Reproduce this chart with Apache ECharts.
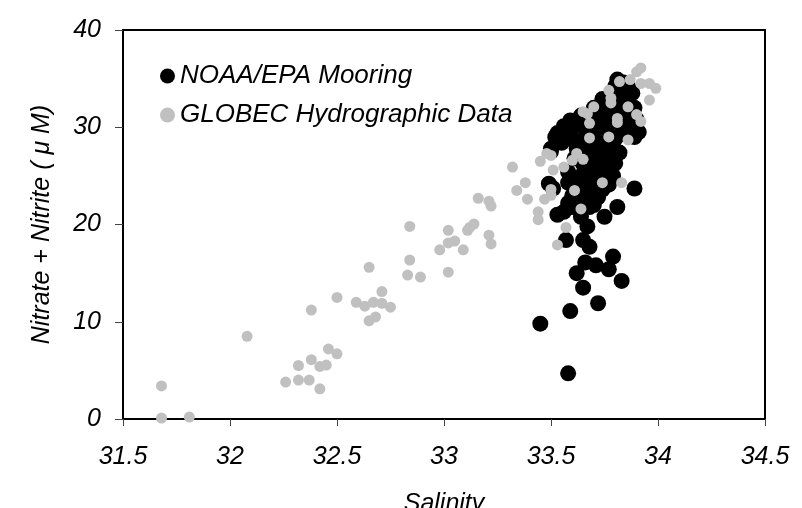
<!DOCTYPE html>
<html>
<head>
<meta charset="utf-8">
<script src="https://cdn.jsdelivr.net/npm/echarts@6/dist/echarts.min.js"></script>
<style>
  html, body { margin: 0; padding: 0; background: #fff; }
  #chart { width: 802px; height: 508px; }
</style>
</head>
<body>
<div id="chart"></div>
<script>
// salinity / nitrate+nitrite pairs
const mooringPoints = [
  [33.45, 9.8], [33.58, 4.7], [33.59, 11.1], [33.72, 11.9], [33.65, 13.5],
  [33.83, 14.2], [33.62, 15.0], [33.66, 16.1], [33.71, 15.8], [33.77, 15.4],
  [33.79, 16.7], [33.57, 18.4], [33.65, 18.4], [33.68, 17.7], [33.64, 20.8],
  [33.67, 19.8], [33.75, 20.8], [33.53, 21.0], [33.56, 21.3], [33.60, 21.8],
  [33.68, 21.8], [33.81, 21.8], [33.89, 23.7], [33.49, 24.2], [33.51, 23.7],
  [33.50, 27.5], [33.53, 29.4], [33.56, 30.1], [33.59, 30.7], [33.52, 29.0],
  [33.50, 27.8], [33.81, 34.9], [33.89, 29.0],
  [33.80, 34.2], [33.83, 33.8], [33.86, 34.2], [33.84, 34.6], [33.88, 33.5],
  [33.74, 32.9], [33.78, 33.3], [33.83, 33.0], [33.86, 32.8],
  [33.70, 32.0], [33.74, 32.2], [33.79, 31.9], [33.84, 32.3], [33.87, 31.6], [33.89, 32.0],
  [33.64, 31.2], [33.68, 30.9], [33.72, 31.3], [33.76, 31.0], [33.80, 31.4],
  [33.85, 31.0], [33.88, 30.5], [33.90, 30.8],
  [33.58, 29.8], [33.62, 30.2], [33.66, 29.9], [33.70, 30.3], [33.74, 30.0],
  [33.78, 29.7], [33.83, 30.0], [33.87, 29.8], [33.91, 29.5],
  [33.60, 28.8], [33.64, 28.6], [33.68, 29.2], [33.72, 28.7], [33.76, 28.4],
  [33.80, 28.8], [33.84, 29.3], [33.55, 28.4],
  [33.62, 27.8], [33.66, 27.5], [33.70, 28.0], [33.74, 27.6], [33.78, 27.9], [33.82, 27.4],
  [33.61, 26.8], [33.65, 26.2], [33.69, 27.0], [33.73, 26.6], [33.77, 26.9], [33.80, 26.3],
  [33.58, 25.4], [33.64, 25.0], [33.68, 25.6], [33.72, 25.2], [33.76, 25.5], [33.79, 25.0],
  [33.58, 24.3], [33.62, 23.9], [33.66, 24.4], [33.70, 24.0], [33.74, 23.6], [33.77, 24.1],
  [33.60, 23.0], [33.64, 22.6], [33.68, 23.2], [33.72, 22.8],
  [33.58, 22.2], [33.62, 21.9], [33.66, 22.3], [33.70, 22.0]
];

const globecPoints = [
  [31.68, 3.4], [31.68, 0.1], [31.81, 0.2], [32.08, 8.5], [32.38, 11.2],
  [32.26, 3.8], [32.32, 4.0], [32.37, 4.0], [32.42, 3.1], [32.32, 5.5],
  [32.38, 6.1], [32.42, 5.4], [32.45, 5.55], [32.46, 7.2], [32.50, 6.7],
  [32.50, 12.5], [32.59, 12.0], [32.63, 11.6], [32.67, 12.0], [32.71, 11.9],
  [32.75, 11.5], [32.71, 13.1], [32.65, 15.6], [32.65, 10.1], [32.68, 10.5],
  [32.84, 19.8], [32.84, 16.35], [32.83, 14.8], [32.89, 14.6], [32.98, 17.4],
  [33.02, 19.4], [33.02, 18.1], [33.05, 18.3], [33.02, 15.1], [33.09, 17.4],
  [33.11, 19.4], [33.12, 19.7], [33.14, 20.05], [33.16, 22.7], [33.21, 22.4],
  [33.22, 21.9], [33.21, 18.9], [33.22, 18.0], [33.32, 25.9], [33.38, 24.3],
  [33.34, 23.5], [33.39, 22.6], [33.44, 21.3], [33.44, 20.5], [33.47, 22.6],
  [33.45, 26.5], [33.50, 27.1], [33.51, 25.6], [33.48, 27.3], [33.50, 23.6],
  [33.50, 23.0], [33.53, 17.9], [33.57, 19.7], [33.56, 25.9], [33.60, 26.6],
  [33.62, 27.3], [33.65, 26.7], [33.61, 23.5], [33.74, 24.3], [33.83, 24.3],
  [33.64, 21.6],
  [33.92, 36.1], [33.90, 35.7], [33.96, 34.5], [33.99, 34.0], [33.96, 32.8],
  [33.92, 34.5], [33.87, 34.9], [33.82, 34.7], [33.77, 33.8], [33.78, 33.0],
  [33.78, 32.5], [33.67, 31.4], [33.68, 30.4], [33.86, 32.1], [33.81, 30.9],
  [33.81, 30.5], [33.90, 31.3], [33.92, 30.6], [33.68, 28.9], [33.77, 29.0],
  [33.86, 28.7], [33.65, 31.6], [33.70, 32.1]
];

const seriesNames = ['NOAA/EPA Mooring', 'GLOBEC Hydrographic Data'];
const salinityTicks = { min: 31.5, max: 34.5, interval: 0.5 };
const nitrateTicks = { min: 0, max: 40, interval: 10 };

const textFont = {
  fontFamily: 'Liberation Sans',
  fontStyle: 'italic',
  fontSize: 25,
  color: '#000'
};

const chart = echarts.init(document.getElementById('chart'));

const option = {
  animation: false,
  backgroundColor: '#fff',
  grid: {
    left: 123,
    right: 37,
    top: 30,
    bottom: 89,
    outerBoundsMode: 'none',
    show: true,
    borderColor: '#000',
    borderWidth: 2
  },
  legend: {
    orient: 'vertical',
    left: 155,
    top: 58,
    itemWidth: 15,
    itemHeight: 15,
    itemGap: 13,
    textStyle: Object.assign({}, textFont, { fontSize: 26, padding: [0, 0, 0, 0] }),
    data: [
      { name: seriesNames[0], icon: 'circle' },
      { name: seriesNames[1], icon: 'circle' }
    ]
  },
  xAxis: {
    type: 'value',
    min: salinityTicks.min,
    max: salinityTicks.max,
    interval: salinityTicks.interval,
    name: 'Salinity',
    nameLocation: 'middle',
    nameGap: 73,
    nameTextStyle: textFont,
    axisLine: { onZero: false, lineStyle: { color: '#000', width: 2 } },
    axisTick: { inside: false, length: 7, lineStyle: { color: '#444', width: 1 } },
    axisLabel: Object.assign({ margin: 26 }, textFont),
    splitLine: { show: false }
  },
  yAxis: {
    type: 'value',
    min: nitrateTicks.min,
    max: nitrateTicks.max,
    interval: nitrateTicks.interval,
    name: 'Nitrate + Nitrite ( \u03bc M)',
    nameLocation: 'middle',
    nameGap: 68,
    nameTextStyle: textFont,
    axisLine: { show: true, lineStyle: { color: '#000', width: 2 } },
    axisTick: { show: true, inside: false, length: 8, lineStyle: { color: '#444', width: 1 } },
    axisLabel: Object.assign({ margin: 22 }, textFont),
    splitLine: { show: false }
  },
  series: [
    {
      name: seriesNames[0],
      type: 'scatter',
      symbol: 'circle',
      symbolSize: 16,
      itemStyle: { color: '#000', opacity: 1 },
      data: mooringPoints
    },
    {
      name: seriesNames[1],
      type: 'scatter',
      symbol: 'circle',
      symbolSize: 11,
      itemStyle: { color: '#c0c0c0', opacity: 1 },
      data: globecPoints
    }
  ]
};

chart.setOption(option);
</script>
</body>
</html>
